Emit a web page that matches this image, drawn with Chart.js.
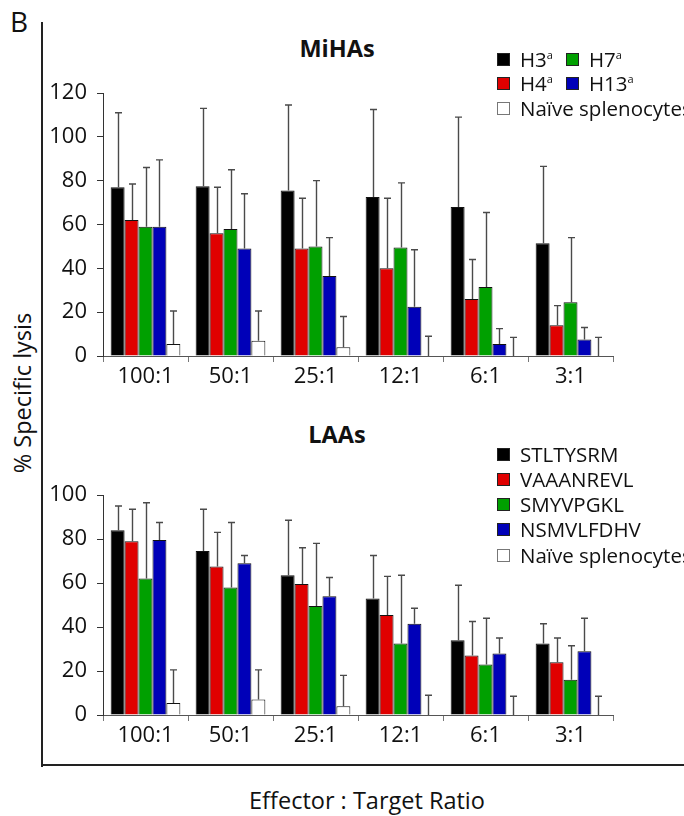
<!DOCTYPE html>
<html><head><meta charset="utf-8">
<script src="https://cdn.jsdelivr.net/npm/chart.js@4/dist/chart.umd.min.js"></script>
<style>
html,body{margin:0;padding:0;background:#fff;}
body{width:684px;height:816px;position:relative;overflow:hidden;font-family:'Open Sans',sans-serif;color:#111;}
.abs{position:absolute;white-space:nowrap;}
canvas{position:absolute;left:0;}
#c1{top:0;}
#c2{top:400px;}
#panel{left:10px;top:4px;font-size:28px;line-height:34px;}
#vline{left:41px;top:22px;width:2px;height:745px;background:#222;}
#hline{left:41px;top:764px;width:643px;height:2px;background:#222;}
#ytitle{left:22px;top:393px;font-size:23.5px;transform:translate(-50%,-50%) rotate(-90deg);}
#xtitle{left:367px;top:800px;font-size:23.5px;transform:translate(-50%,-50%);}
.title{font-weight:bold;font-size:23.5px;transform:translate(-50%,-50%);}
.sw{position:absolute;width:11px;height:11px;border:1px solid #222;}
.lt{position:absolute;font-size:20.5px;line-height:24px;transform:translateY(-50%);white-space:nowrap;}
.lt sup{font-size:11px;vertical-align:8px;line-height:0;}
</style></head>
<body>
<div class="abs" id="panel">B</div>
<div class="abs" id="vline"></div>
<div class="abs" id="hline"></div>
<div class="abs" id="ytitle">% Specific lysis</div>
<div class="abs" id="xtitle">Effector : Target Ratio</div>
<div class="abs title" style="left:337px;top:48px;">MiHAs</div>
<div class="abs title" style="left:337px;top:434px;">LAAs</div>
<canvas id="c1" width="684" height="400"></canvas>
<canvas id="c2" width="684" height="370"></canvas>
<div id="legends"></div>
<script>
// ---- data ----
const categories = ['100:1', '50:1', '25:1', '12:1', '6:1', '3:1'];

// MiHAs (top panel): means and upper SD
const mihaLabels = ['H3', 'H4', 'H7', 'H13', 'Naïve splenocytes'];
const h3Mean  = [77, 77.5, 75.5, 72.5, 68, 51.5];
const h3Sd    = [34, 35.5, 39, 40, 41, 35];
const h4Mean  = [62, 56, 49, 40, 26, 14];
const h4Sd    = [16.5, 21, 23, 32, 18, 9];
const h7Mean  = [59, 58, 50, 49.5, 31.5, 24.5];
const h7Sd    = [27, 27, 30, 29.5, 34, 29.5];
const h13Mean = [59, 49, 36.5, 22.5, 5.5, 7.5];
const h13Sd   = [30.5, 25, 17.5, 26, 7, 5.5];
const naiveTopMean = [5.5, 7, 4, 0, 0, 0];
const naiveTopSd   = [15, 13.5, 14, 9, 8.5, 8.5];

// LAAs (bottom panel)
const laaLabels = ['STLTYSRM', 'VAAANREVL', 'SMYVPGKL', 'NSMVLFDHV', 'Naïve splenocytes'];
const stlMean = [84, 74.5, 63.5, 53, 34, 32.5];
const stlSd   = [11, 19, 25, 19.5, 25, 9];
const vaaMean = [79, 67.5, 59.5, 45.5, 27, 24];
const vaaSd   = [14.5, 15.5, 16.5, 17.5, 15.5, 11];
const smyMean = [62, 58, 49.5, 32.5, 23, 16];
const smySd   = [34.5, 29.5, 28.5, 31, 21, 15.5];
const nsmMean = [79.5, 69, 54, 41.5, 28, 29];
const nsmSd   = [8, 3.5, 8.5, 7, 7, 15];
const naiveBotMean = [5.5, 7, 4, 0, 0, 0];
const naiveBotSd   = [15, 13.5, 14, 9, 8.5, 8.5];

const topTicks = [0, 20, 40, 60, 80, 100, 120];
const botTicks = [0, 20, 40, 60, 80, 100];

// ---- styles ----
const colors = ['#000000', '#e00000', '#00a000', '#0000b8', '#ffffff'];
Chart.defaults.font.family = "'Open Sans', sans-serif";
Chart.defaults.color = '#111';

const errorBars = {
  id: 'errorBars',
  afterDatasetsDraw(chart) {
    const ctx = chart.ctx, ys = chart.scales.y;
    chart.data.datasets.forEach((ds, i) => {
      const meta = chart.getDatasetMeta(i);
      meta.data.forEach((bar, j) => {
        const top = ys.getPixelForValue(ds.data[j] + ds.sd[j]);
        const x = Math.round(bar.x) + 0.5;
        ctx.save();
        ctx.strokeStyle = '#4a4a4a';
        ctx.lineWidth = 1.4;
        ctx.beginPath();
        ctx.moveTo(x, bar.y);
        ctx.lineTo(x, top);
        ctx.moveTo(x - 3.5, top);
        ctx.lineTo(x + 3.5, top);
        ctx.stroke();
        ctx.restore();
      });
    });
  }
};

function makeChart(id, means, sds, labels, ticks, padTop, xHeight) {
  const datasets = means.map((m, i) => ({
    label: labels[i],
    data: m,
    sd: sds[i],
    backgroundColor: colors[i],
    borderColor: '#111',
    borderWidth: 1,
    borderSkipped: 'start'
  }));
  return new Chart(document.getElementById(id), {
    type: 'bar',
    data: { labels: categories, datasets },
    plugins: [errorBars],
    options: {
      responsive: false,
      animation: false,
      layout: { padding: { top: padTop, right: 71, bottom: 0, left: 0 } },
      plugins: { legend: { display: false }, tooltip: { enabled: false } },
      datasets: { bar: { categoryPercentage: 0.82, barPercentage: 1 } },
      scales: {
        x: {
          grid: { display: true, drawOnChartArea: false, offset: true, tickLength: 6, color: '#777' },
          border: { color: '#555', width: 1 },
          ticks: { font: { size: 22 }, color: '#111', padding: 2, maxRotation: 0 },
          afterFit(s) { s.height = xHeight; }
        },
        y: {
          min: ticks[0], max: ticks[ticks.length - 1],
          afterBuildTicks(s) { s.ticks = ticks.map(v => ({ value: v })); },
          ticks: { font: { size: 22 }, color: '#111', padding: 10 },
          grid: { drawOnChartArea: false, tickLength: 6, color: '#333' },
          border: { color: '#333', width: 1 },
          afterFit(s) { s.width = 103; }
        }
      }
    }
  });
}

makeChart('c1', [h3Mean, h4Mean, h7Mean, h13Mean, naiveTopMean],
  [h3Sd, h4Sd, h7Sd, h13Sd, naiveTopSd], mihaLabels, topTicks, 93, 44);
makeChart('c2', [stlMean, vaaMean, smyMean, nsmMean, naiveBotMean],
  [stlSd, vaaSd, smySd, nsmSd, naiveBotSd], laaLabels, botTicks, 95, 55);

// ---- legends (HTML) ----
const leg = document.getElementById('legends');
function addItem(x, y, color, html, grayBorder) {
  const s = document.createElement('div');
  s.className = 'sw';
  s.style.left = x + 'px';
  s.style.top = (y - 6) + 'px';
  s.style.background = color;
  if (grayBorder) s.style.borderColor = '#777';
  leg.appendChild(s);
  const t = document.createElement('div');
  t.className = 'lt';
  t.style.left = (x + 23) + 'px';
  t.style.top = y + 'px';
  t.innerHTML = html;
  leg.appendChild(t);
}
// top legend: 2 columns for first four, then naive
const topPos = [[497, 59], [497, 83], [566, 59], [566, 83], [497, 108]];
mihaLabels.forEach((l, i) => {
  const html = i < 4 ? l + '<sup>a</sup>' : l;
  addItem(topPos[i][0], topPos[i][1], colors[i], html, i === 4);
});
laaLabels.forEach((l, i) => {
  addItem(497, 453.5 + i * 25.3, colors[i], l, i === 4);
});
</script>
</body></html>
